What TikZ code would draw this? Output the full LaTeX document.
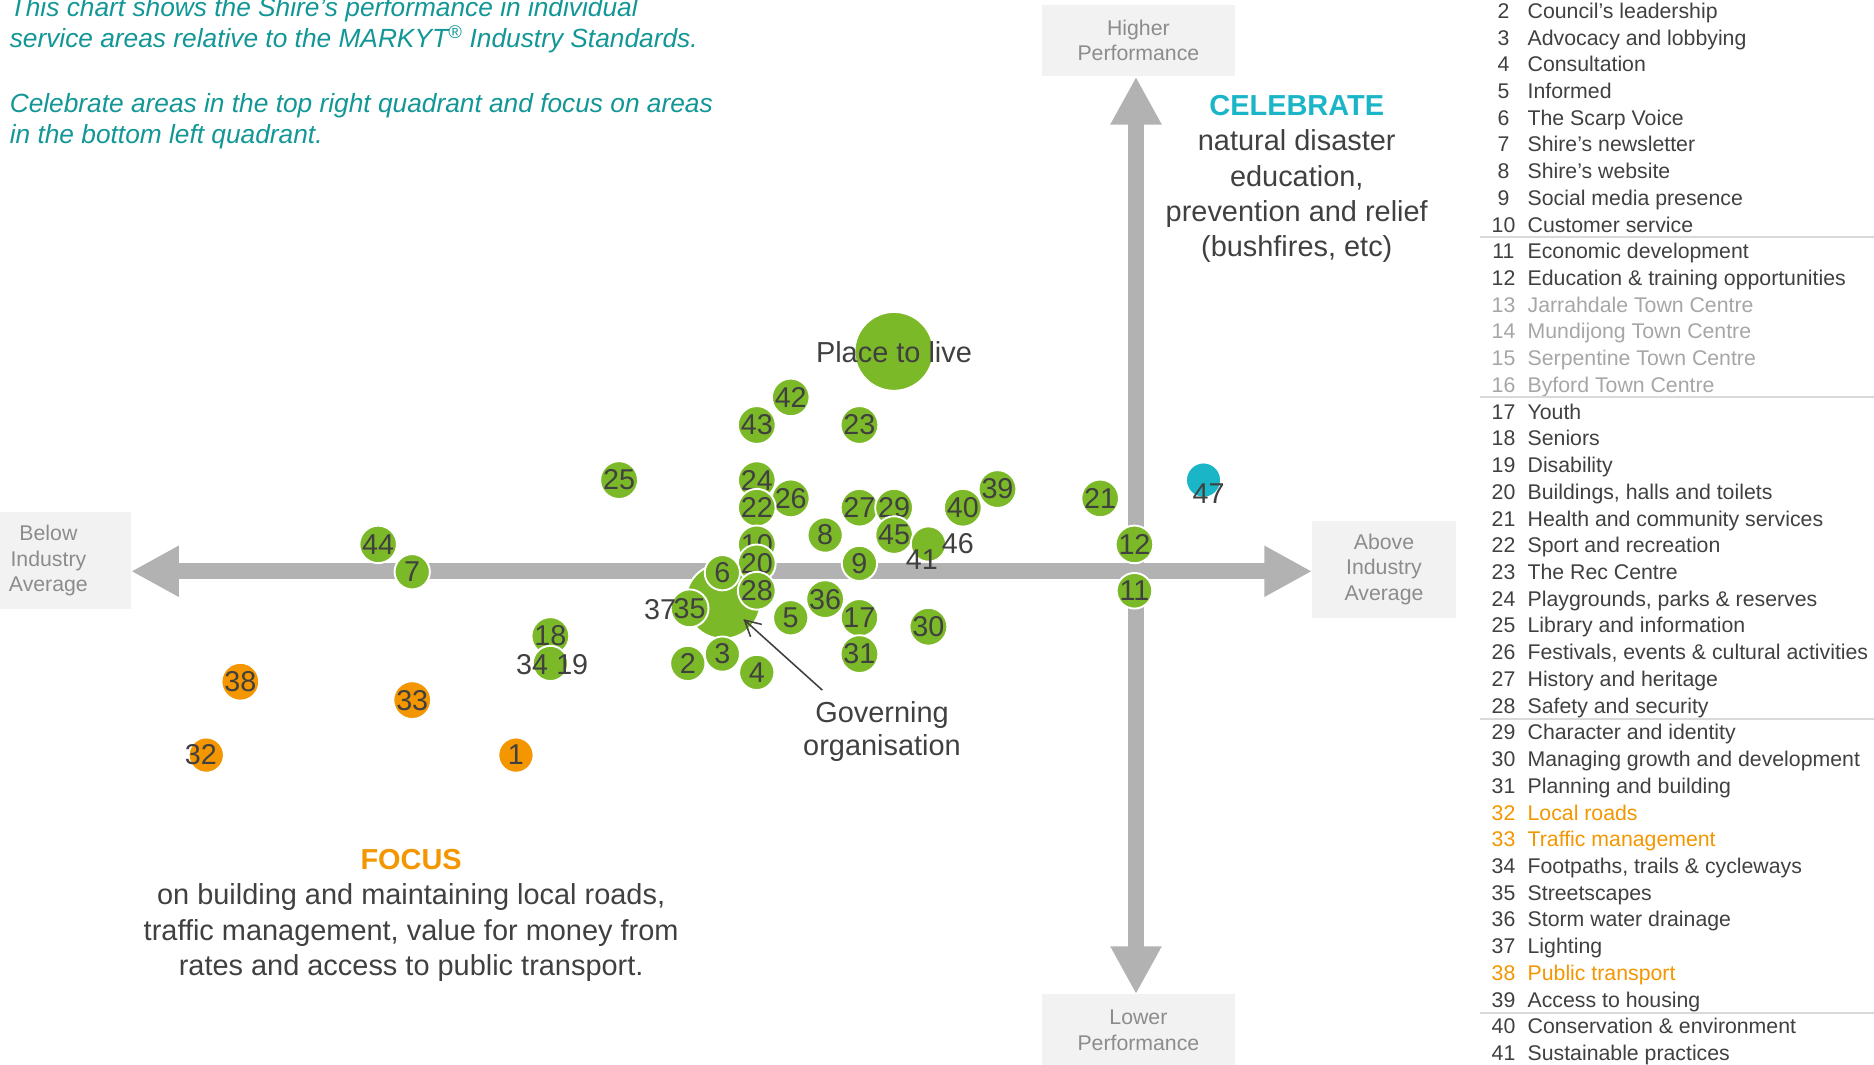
\documentclass[tikz,border=0pt]{standalone}
\usepackage{fontspec}
\setmainfont{Liberation Sans}
\usetikzlibrary{arrows.meta}
\definecolor{cgreen}{RGB}{124,185,40}
\definecolor{corange}{RGB}{243,150,0}
\definecolor{ccyan}{RGB}{27,181,200}
\definecolor{cteal}{RGB}{18,150,150}
\definecolor{cdark}{RGB}{64,64,64}
\definecolor{clgray}{RGB}{166,166,166}
\definecolor{caxis}{RGB}{178,178,178}
\definecolor{cbox}{RGB}{242,242,242}
\definecolor{cboxtext}{RGB}{140,140,140}
\definecolor{csep}{RGB}{217,217,217}
\newcommand\bubfont{\fontsize{24}{24}\selectfont}
\newcommand\bigtxtfont{\fontsize{24.2}{29.5}\selectfont}
\newcommand\listfont{\fontsize{17.8}{21.3}\selectfont}
\newcommand\titlefont{\fontsize{22}{26}\selectfont\itshape}
\begin{document}
\begin{tikzpicture}[x=1pt,y=-1pt,
  bub/.style={circle, fill=cgreen, draw=white, line width=1.6pt, minimum size=29.5pt, inner sep=0pt, text=cdark, font=\bubfont},
  obub/.style={bub, fill=corange},
  cbub/.style={bub, fill=ccyan},
  lbl/.style={inner sep=0pt, text=cdark, font=\bubfont},
  axbox/.style={fill=cbox, text=cboxtext, font=\listfont, align=center, inner sep=0pt},
  axisarrow/.style={draw=caxis, line width=13.4pt, -{Triangle[length=40pt, width=40pt]}},
  listnum/.style={anchor=base, inner sep=0pt, font=\listfont},
  listtxt/.style={anchor=base west, inner sep=0pt, font=\listfont},
  sepline/.style={draw=csep, line width=1.7pt},
  bigtxt/.style={align=center, inner sep=0pt, text=cdark, font=\bigtxtfont},
  titletxt/.style={align=left, inner sep=0pt, text=cteal, font=\titlefont},
  govarrow/.style={draw=cdark, line width=1.3pt, -{Straight Barb[length=13pt, width=14pt]}}
]
\useasboundingbox (0,0) rectangle (1568,891);

% ---- title (anchor = baseline of the last line)
\node[titletxt, anchor=base west] (title1) at (8,40) {This chart shows the Shire’s performance in individual\\service areas relative to the MARKYT\textsuperscript{®} Industry Standards.};
\node[titletxt, anchor=base west] (title2) at (8,120) {Celebrate areas in the top right quadrant and focus on areas\\in the bottom left quadrant.};

% ---- axes
\coordinate (origin) at (950.5,478);
\node[axbox, minimum width=161pt, minimum height=60pt] (higher) at (952.5,34) {Higher\\Performance};
\node[axbox, minimum width=161pt, minimum height=60pt] (lower) at (952.5,862) {Lower\\Performance};
\node[axbox, minimum width=138pt, minimum height=81pt] (below) at (40.5,469) {Below\\Industry\\Average};
\node[axbox, minimum width=120pt, minimum height=81pt] (above) at (1158,476.5) {Above\\Industry\\Average};
\draw[axisarrow] (origin) -- (origin |- higher.south);
\draw[axisarrow] (origin) -- (origin |- lower.north);
\draw[axisarrow] (origin) -- (origin -| below.east);
\draw[axisarrow] (origin) -- (origin -| above.west);

% ---- quadrant texts
\node[bigtxt, anchor=base] (celebrate) at (1085,214.7) {{\bfseries\color{ccyan}CELEBRATE}\\natural disaster\\education,\\prevention and relief\\(bushfires, etc)};
\node[bigtxt, anchor=base] (focus) at (344,816.2) {{\bfseries\color{corange}FOCUS}\\on building and maintaining local roads,\\traffic management, value for money from\\rates and access to public transport.};

% ---- big bubbles
\node[bub, minimum size=66pt] (place) at (748,294) {};
\node[bub, minimum size=63pt] (gov) at (605,503) {};

% ---- bubbles
\node[bub] (b44) at (316.4,455.5) {44};
\node[bub] (b7) at (344.9,478.4) {7};
\node[bub] (b25) at (518,401.7) {25};
\node[bub] (b42) at (661.6,332.5) {42};
\node[bub] (b43) at (633.2,355.6) {43};
\node[bub] (b23) at (719.1,355.6) {23};
\node[bub] (b24) at (633.2,401.7) {24};
\node[bub] (b26) at (661.6,417) {26};
\node[bub] (b22) at (633.2,424.8) {22};
\node[bub] (b27) at (719.1,424.8) {27};
\node[bub] (b29) at (748.1,424.8) {29};
\node[bub] (b45) at (748.1,447.7) {45};
\node[bub] (b40) at (805.6,424.8) {40};
\node[bub] (b39) at (834.6,409.2) {39};
\node[bub] (b8) at (690.4,447.7) {8};
\node[bub] (b10) at (633.2,455.5) {10};
\node[bub] (b20) at (633.2,471.4) {20};
\node[bub] (b9) at (719.1,471.4) {9};
\node[bub] (b6) at (604.4,479.2) {6};
\node[bub] (b28) at (633.2,494.3) {28};
\node[bub] (b36) at (690.4,501.3) {36};
\node[bub] (b5) at (661.6,516.9) {5};
\node[bub] (b17) at (719.1,516.9) {17};
\node[bub] (b30) at (776.8,524.4) {30};
\node[bub] (b35) at (577,509) {35};
\node[bub] (b2) at (575.5,555.1) {2};
\node[bub] (b3) at (604.4,547.3) {3};
\node[bub] (b4) at (633.2,562.6) {4};
\node[bub] (b31) at (719.1,547.3) {31};
\node[bub] (b18) at (460.5,532.2) {18};
\node[bub] (b19) at (460.5,555.1) {};
\node[bub] (b21) at (920.5,417) {21};
\node[bub] (b12) at (949.2,455.5) {12};
\node[bub] (b11) at (949.2,494.3) {11};
\node[bub] (b41) at (776.8,455.2) {};
\node[cbub] (b47) at (1007,401.7) {};
\node[obub] (b38) at (201.1,570.4) {38};
\node[obub] (b33) at (344.9,585.8) {33};
\node[obub] (b32) at (172.6,631.8) {};
\node[obub] (b1) at (431.7,631.8) {1};

% ---- offset labels
\node[lbl] (l37) at (552.3,509.9) {37};
\node[lbl] (l34) at (445.2,556.5) {34};
\node[lbl] (l19) at (478.8,556.5) {19};
\node[lbl] (l41) at (771.3,468.6) {41};
\node[lbl] (l46) at (801.4,454.7) {46};
\node[lbl] (l47) at (1011.2,412.8) {47};
\node[lbl] (l32) at (168.1,631.8) {32};

\node[bigtxt, anchor=base] (placelbl) at (748,303.5) {Place to live};
\node[bigtxt, anchor=base, font=\fontsize{24.2}{28}\selectfont] (govlabel) at (738,632.5) {Governing\\organisation};
\coordinate (govstart) at (688,577.4);
\coordinate (govtip) at (622,518);
\draw[govarrow] (govstart) -- (govtip);

% ---- legend list
\foreach \nn/\txt/\col in {
2/{Council’s leadership}/cdark,
3/{Advocacy and lobbying}/cdark,
4/{Consultation}/cdark,
5/{Informed}/cdark,
6/{The Scarp Voice}/cdark,
7/{Shire’s newsletter}/cdark,
8/{Shire’s website}/cdark,
9/{Social media presence}/cdark,
10/{Customer service}/cdark,
11/{Economic development}/cdark,
12/{Education \& training opportunities}/cdark,
13/{Jarrahdale Town Centre}/clgray,
14/{Mundijong Town Centre}/clgray,
15/{Serpentine Town Centre}/clgray,
16/{Byford Town Centre}/clgray,
17/{Youth}/cdark,
18/{Seniors}/cdark,
19/{Disability}/cdark,
20/{Buildings, halls and toilets}/cdark,
21/{Health and community services}/cdark,
22/{Sport and recreation}/cdark,
23/{The Rec Centre}/cdark,
24/{Playgrounds, parks \& reserves}/cdark,
25/{Library and information}/cdark,
26/{Festivals, events \& cultural activities}/cdark,
27/{History and heritage}/cdark,
28/{Safety and security}/cdark,
29/{Character and identity}/cdark,
30/{Managing growth and development}/cdark,
31/{Planning and building}/cdark,
32/{Local roads}/corange,
33/{Traffic management}/corange,
34/{Footpaths, trails \& cycleways}/cdark,
35/{Streetscapes}/cdark,
36/{Storm water drainage}/cdark,
37/{Lighting}/cdark,
38/{Public transport}/corange,
39/{Access to housing}/cdark,
40/{Conservation \& environment}/cdark,
41/{Sustainable practices}/cdark}{
  \pgfmathsetmacro\yy{15.3+(\nn-2)*22.36}
  \node[listnum, text=\col] (num\nn) at (1258,\yy) {\nn};
  \node[listtxt, text=\col] (item\nn) at (1278,\yy) {\txt};
}

% ---- separators
\foreach \k/\sy in {1/198.5, 2/332.5, 3/601.5, 4/847.5}{
  \coordinate (sa\k) at (1238,\sy);
  \coordinate (sb\k) at (1568,\sy);
  \draw[sepline] (sa\k) -- (sb\k);
}
\end{tikzpicture}
\end{document}
